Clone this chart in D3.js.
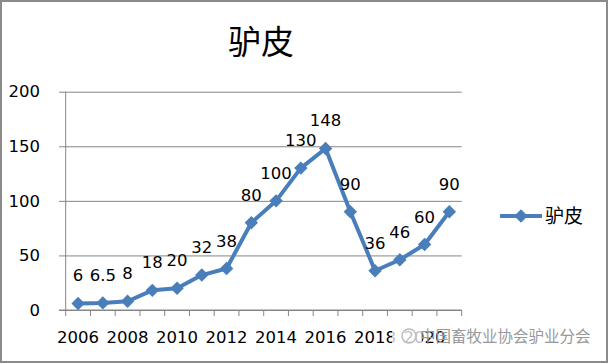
<!DOCTYPE html>
<html>
<head>
<meta charset="utf-8">
<script src="https://cdn.jsdelivr.net/npm/d3@7"></script>
<style>
body { margin: 0; background: #fff; }
svg { display: block; font-family: "DejaVu Sans", sans-serif; }
</style>
</head>
<body>
<svg width="609" height="364"></svg>
<script>
// data
var years = ["2006","2007","2008","2009","2010","2011","2012","2013",
             "2014","2015","2016","2017","2018","2019","2020","2021"];
var values = [6, 6.5, 8, 18, 20, 32, 38, 80, 100, 130, 148, 90, 36, 46, 60, 90];
var labelYears = ["2006","2008","2010","2012","2014","2016","2018","2020"];
var yTicks = [0, 50, 100, 150, 200];
var seriesName = "驴皮";
var title = "驴皮";
var watermark = "中国畜牧业协会驴业分会";

var svg = d3.select("svg"),
    width = +svg.attr("width"),
    height = +svg.attr("height");

var blue = "#4a7ebb",
    grid = "#868686",
    numFont = "'DejaVu Sans', sans-serif",
    numSize = "16.5px";

// plot area (note: "top" is a reserved window prop, so use plot*)
var plotLeft = 65.7, plotRight = 461.7, plotTop = 91.7, plotBottom = 310;

var x = d3.scaleBand().domain(years).range([plotLeft, plotRight]);
var y = d3.scaleLinear().domain([0, 200]).range([plotBottom, plotTop]);

// frame
svg.append("rect")
    .attr("x", 1).attr("y", 1)
    .attr("width", width - 3).attr("height", height - 3)
    .attr("fill", "#fff")
    .attr("stroke", "#8a8a8a")
    .attr("stroke-width", 2);

// title
svg.append("text")
    .attr("x", 261).attr("y", 54)
    .attr("text-anchor", "middle")
    .style("font-family", "'Noto Sans CJK SC', sans-serif")
    .style("font-size", "33px")
    .text(title);

// y axis + gridlines
var yAxis = svg.append("g")
    .attr("transform", "translate(59,0)")
    .call(d3.axisLeft(y).tickValues(yTicks)
        .tickSizeInner(-(plotRight - 59)).tickSizeOuter(0).tickPadding(19));
yAxis.select(".domain").remove();
yAxis.selectAll("line").attr("stroke", grid);
yAxis.selectAll("text")
    .style("font-size", numSize)
    .style("font-family", numFont)
    .attr("fill", "#000");

svg.append("line")
    .attr("x1", plotLeft).attr("x2", plotLeft)
    .attr("y1", plotTop).attr("y2", plotBottom)
    .attr("stroke", grid);

// x axis: boundary ticks and labels every second year
var bounds = years.map(function (d) { return x(d); }).concat([plotRight]);
svg.append("g").selectAll("line")
    .data(bounds)
    .enter().append("line")
    .attr("x1", function (d) { return d; })
    .attr("x2", function (d) { return d; })
    .attr("y1", plotBottom).attr("y2", plotBottom + 6)
    .attr("stroke", grid);

var xAxis = svg.append("g")
    .attr("transform", "translate(0," + plotBottom + ")")
    .call(d3.axisBottom(x).tickValues(labelYears).tickSize(0).tickPadding(21));
xAxis.select(".domain").attr("stroke", grid).attr("d", "M59,0H" + plotRight);
xAxis.selectAll("text")
    .style("font-size", numSize)
    .style("font-family", numFont)
    .attr("fill", "#000");

// series line
var line = d3.line()
    .x(function (d, i) { return x(years[i]) + x.bandwidth() / 2; })
    .y(function (d) { return y(d); });

svg.append("path")
    .datum(values)
    .attr("d", line)
    .attr("fill", "none")
    .attr("stroke", blue)
    .attr("stroke-width", 4)
    .attr("stroke-linejoin", "round");

var diamond = d3.symbol().type(d3.symbolDiamond2).size(115);

svg.append("g").selectAll("path")
    .data(values)
    .enter().append("path")
    .attr("d", diamond)
    .attr("transform", function (d, i) {
        return "translate(" + (x(years[i]) + x.bandwidth() / 2) + "," + y(d) + ")";
    })
    .attr("fill", blue);

// data labels
svg.append("g").selectAll("text")
    .data(values)
    .enter().append("text")
    .attr("x", function (d, i) { return x(years[i]) + x.bandwidth() / 2; })
    .attr("y", function (d) { return y(d) - 22; })
    .attr("text-anchor", "middle")
    .style("font-size", numSize)
    .style("font-family", numFont)
    .text(function (d) { return d; });

// legend
var lg = svg.append("g").attr("transform", "translate(500,216)");
lg.append("line")
    .attr("x1", 0).attr("x2", 42)
    .attr("stroke", blue).attr("stroke-width", 4);
lg.append("path")
    .attr("d", diamond)
    .attr("transform", "translate(21,0)")
    .attr("fill", blue);
lg.append("text")
    .attr("x", 45).attr("y", 7)
    .style("font-family", "'Noto Sans CJK SC', sans-serif")
    .style("font-size", "19px")
    .text(seriesName);

// watermark
var wm = svg.append("g").attr("transform", "translate(392,336)");
wm.append("rect")
    .attr("x", 0).attr("y", -11)
    .attr("width", 30).attr("height", 20)
    .attr("fill", "#fff").attr("opacity", 0.75);
wm.append("circle")
    .attr("cx", 17).attr("cy", 0).attr("r", 7)
    .attr("fill", "none").attr("stroke", "#bbb").attr("stroke-width", 1.5);
wm.append("text")
    .attr("x", 28).attr("y", 6)
    .style("font-family", "'Noto Sans CJK SC', sans-serif")
    .style("font-size", "15.5px")
    .attr("fill", "#999")
    .text(watermark);
</script>
</body>
</html>
